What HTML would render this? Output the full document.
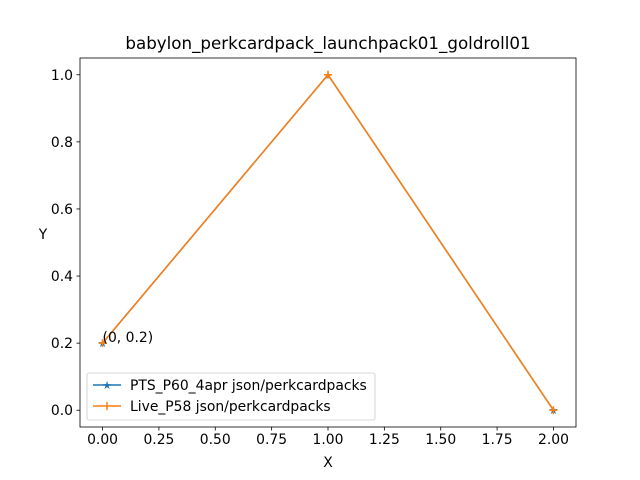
<!DOCTYPE html>
<html><head><meta charset="utf-8"><style>
body{margin:0;background:#fff;}
svg{display:block;font-family:"DejaVu Sans","Liberation Sans",sans-serif;}
</style></head><body>
<svg id="chart" width="640" height="480" viewBox="0 0 640 480">
<rect width="640" height="480" fill="#fff"/>
<text x="328" y="49" font-size="16.7" text-anchor="middle">babylon_perkcardpack_launchpack01_goldroll01</text>
<g id="axes"></g>
<g id="series"></g>
<rect x="80" y="58" width="496" height="369" fill="none" stroke="#000" stroke-width="0.8"/>
<text x="328" y="467" font-size="13.9" text-anchor="middle">X</text>
<text x="43" y="239" font-size="13.9" text-anchor="middle">Y</text>
<text id="annot" font-size="13.9">(0, 0.2)</text>
<g>
<rect x="87" y="373" width="288" height="47" rx="2" fill="#fff" fill-opacity="0.8" stroke="#ccc" stroke-width="0.8"/>
<line x1="93" y1="385" x2="121" y2="385" stroke="#1f77b4" stroke-width="1.5"/>
<text x="107" y="389" font-size="11" fill="#1f77b4" text-anchor="middle">★</text>
<text x="130" y="390" font-size="13.9">PTS_P60_4apr json/perkcardpacks</text>
<line x1="93" y1="406" x2="121" y2="406" stroke="#ff7f0e" stroke-width="1.5"/>
<line x1="107" y1="402" x2="107" y2="410" stroke="#ff7f0e" stroke-width="1.5"/>
<text x="130" y="411" font-size="13.9">Live_P58 json/perkcardpacks</text>
</g>
</svg>
<script>
const xValues=[0,1,2];
const ptsValues=[0.2,1.0,0.0];
const liveValues=[0.2,1.0,0.0];
const xTicks=[0,0.25,0.5,0.75,1.0,1.25,1.5,1.75,2.0];
const xTickLabels=["0.00","0.25","0.50","0.75","1.00","1.25","1.50","1.75","2.00"];
const yTicks=[0,0.2,0.4,0.6,0.8,1.0];
const yTickLabels=["0.0","0.2","0.4","0.6","0.8","1.0"];
const NS="http://www.w3.org/2000/svg";
const L=80,R=576,T=58,B=427;
const xmin=-0.1,xmax=2.1,ymin=-0.05,ymax=1.05;
const sx=v=>L+(v-xmin)/(xmax-xmin)*(R-L);
const sy=v=>B-(v-ymin)/(ymax-ymin)*(B-T);
function mk(tag,attrs,parent){const e=document.createElementNS(NS,tag);for(const k in attrs)e.setAttribute(k,attrs[k]);parent.appendChild(e);return e;}
const axes=document.getElementById('axes');
xTicks.forEach((t,i)=>{
  const l=mk('line',{x1:sx(t),x2:sx(t),y1:B,y2:B+3.5,stroke:'#000','stroke-width':0.8},axes);
  
  
  const tx=mk('text',{x:sx(t),y:B+17,'font-size':13.9,'text-anchor':'middle'},axes);
  tx.textContent=xTickLabels[i];
  
  
});
yTicks.forEach((t,i)=>{
  const l=mk('line',{x1:L-3.5,x2:L,y1:sy(t),y2:sy(t),stroke:'#000','stroke-width':0.8},axes);
  
  
  const tx=mk('text',{x:L-7,y:sy(t)+5,'font-size':13.9,'text-anchor':'end'},axes);
  tx.textContent=yTickLabels[i];
  
  
});
const series=document.getElementById('series');
function drawSeries(vals,color,marker,name){
  const p=mk('polyline',{points:xValues.map((x,i)=>sx(x)+','+sy(vals[i])).join(' '),fill:'none',stroke:color,'stroke-width':1.5},series);
  
  
  xValues.forEach((x,i)=>{
    let m;
    if(marker==='star'){
      m=mk('text',{x:sx(x),y:sy(vals[i])+4,'font-size':11,fill:color,'text-anchor':'middle'},series);
      m.textContent='★';
    }else{
      m=mk('path',{d:`M${sx(x)-4},${sy(vals[i])}h8M${sx(x)},${sy(vals[i])-4}v8`,stroke:color,'stroke-width':1.5},series);
    }
    
    
  });
}
drawSeries(ptsValues,'#1f77b4','star','pts-series');
drawSeries(liveValues,'#ff7f0e','plus','live-series');
const a=document.getElementById('annot');
a.setAttribute('x',sx(xValues[0]));
a.setAttribute('y',sy(ptsValues[0])-1);
</script>
</body></html>
